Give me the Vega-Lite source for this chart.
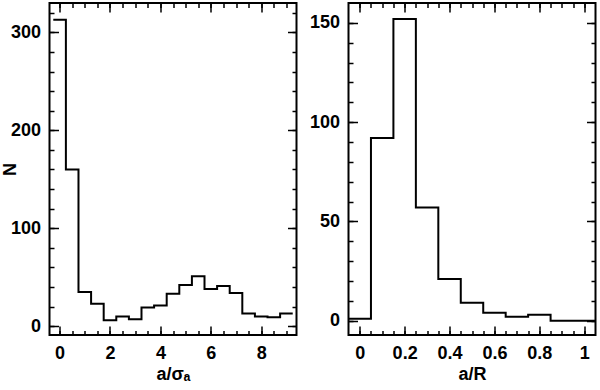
{
  "$schema": "https://vega.github.io/schema/vega-lite/v6.json",
  "padding": {"left": 0.5, "top": 1, "right": 0, "bottom": 0},
  "background": "white",
  "spacing": 9,
  "config": {
    "view": {"stroke": "black", "strokeWidth": 2},
    "axis": {
      "labelFont": "Liberation Sans", "labelFontSize": 18, "labelFontWeight": "bold", "labelColor": "black",
      "titleFont": "Liberation Sans", "titleFontSize": 18, "titleFontWeight": "bold", "titleColor": "black",
      "tickColor": "black", "tickWidth": 1.5, "domain": false, "grid": false, "labelFlush": false, "labelOverlap": false
    }
  },
  "hconcat": [
    {
      "width": 247, "height": 332,
      "data": {"values": [
        {"lo": -0.25, "hi": 0.25, "n": 313},
        {"lo": 0.25, "hi": 0.75, "n": 160},
        {"lo": 0.75, "hi": 1.25, "n": 35},
        {"lo": 1.25, "hi": 1.75, "n": 23},
        {"lo": 1.75, "hi": 2.25, "n": 6},
        {"lo": 2.25, "hi": 2.75, "n": 10},
        {"lo": 2.75, "hi": 3.25, "n": 7},
        {"lo": 3.25, "hi": 3.75, "n": 19},
        {"lo": 3.75, "hi": 4.25, "n": 21},
        {"lo": 4.25, "hi": 4.75, "n": 33},
        {"lo": 4.75, "hi": 5.25, "n": 42},
        {"lo": 5.25, "hi": 5.75, "n": 51},
        {"lo": 5.75, "hi": 6.25, "n": 38},
        {"lo": 6.25, "hi": 6.75, "n": 41},
        {"lo": 6.75, "hi": 7.25, "n": 34},
        {"lo": 7.25, "hi": 7.75, "n": 13},
        {"lo": 7.75, "hi": 8.25, "n": 10},
        {"lo": 8.25, "hi": 8.75, "n": 9},
        {"lo": 8.75, "hi": 9.25, "n": 13}
      ]},
      "transform": [{"fold": ["lo", "hi"], "as": ["edge", "x"]}],
      "layer": [
        {
          "mark": {"type": "line", "color": "black", "strokeWidth": 2},
          "encoding": {
            "x": {"field": "x", "type": "quantitative", "scale": {"domain": [-0.4, 9.4], "nice": false, "zero": false},
                  "axis": {"orient": "bottom", "values": [0, 2, 4, 6, 8], "ticks": false, "labelPadding": 9, "title": "a/σₐ", "titlePadding": 3}},
            "y": {"field": "n", "type": "quantitative", "scale": {"domain": [-9, 330], "nice": false, "zero": false},
                  "axis": {"orient": "left", "values": [0, 100, 200, 300], "ticks": false, "labelPadding": 9, "title": "N", "titlePadding": -9.5}},
            "order": [{"field": "x", "type": "quantitative"}, {"field": "edge", "type": "nominal"}]
          }
        },
        {
          "mark": {"type": "point", "opacity": 0, "size": 0},
          "encoding": {
            "x": {"field": "x", "type": "quantitative", "scale": {"domain": [-0.4, 9.4], "nice": false, "zero": false},
                  "axis": {"orient": "bottom", "values": [0, 2, 4, 6, 8], "labels": false, "tickSize": -9, "title": null}},
            "y": {"field": "n", "type": "quantitative", "scale": {"domain": [-9, 330], "nice": false, "zero": false},
                  "axis": {"orient": "left", "values": [0, 100, 200, 300], "labels": false, "tickSize": -9, "title": null}}
          }
        },
        {
          "mark": {"type": "point", "opacity": 0, "size": 0},
          "encoding": {
            "x": {"field": "x", "type": "quantitative", "scale": {"domain": [-0.4, 9.4], "nice": false, "zero": false},
                  "axis": {"orient": "bottom", "values": [0, 0.5, 1, 1.5, 2, 2.5, 3, 3.5, 4, 4.5, 5, 5.5, 6, 6.5, 7, 7.5, 8, 8.5, 9], "labels": false, "tickSize": -4.5, "title": null}},
            "y": {"field": "n", "type": "quantitative", "scale": {"domain": [-9, 330], "nice": false, "zero": false},
                  "axis": {"orient": "left", "values": [0, 20, 40, 60, 80, 100, 120, 140, 160, 180, 200, 220, 240, 260, 280, 300, 320], "labels": false, "tickSize": -4.5, "title": null}}
          }
        },
        {
          "mark": {"type": "point", "opacity": 0, "size": 0},
          "encoding": {
            "x": {"field": "x", "type": "quantitative", "scale": {"domain": [-0.4, 9.4], "nice": false, "zero": false},
                  "axis": {"orient": "top", "values": [0, 2, 4, 6, 8], "labels": false, "tickSize": -9, "title": null}},
            "y": {"field": "n", "type": "quantitative", "scale": {"domain": [-9, 330], "nice": false, "zero": false},
                  "axis": {"orient": "right", "values": [0, 100, 200, 300], "labels": false, "tickSize": -9, "title": null}}
          }
        },
        {
          "mark": {"type": "point", "opacity": 0, "size": 0},
          "encoding": {
            "x": {"field": "x", "type": "quantitative", "scale": {"domain": [-0.4, 9.4], "nice": false, "zero": false},
                  "axis": {"orient": "top", "values": [0, 0.5, 1, 1.5, 2, 2.5, 3, 3.5, 4, 4.5, 5, 5.5, 6, 6.5, 7, 7.5, 8, 8.5, 9], "labels": false, "tickSize": -4.5, "title": null}},
            "y": {"field": "n", "type": "quantitative", "scale": {"domain": [-9, 330], "nice": false, "zero": false},
                  "axis": {"orient": "right", "values": [0, 20, 40, 60, 80, 100, 120, 140, 160, 180, 200, 220, 240, 260, 280, 300, 320], "labels": false, "tickSize": -4.5, "title": null}}
          }
        }
      ],
      "resolve": {"axis": {"x": "independent", "y": "independent"}}
    },
    {
      "width": 247, "height": 332,
      "data": {"values": [
        {"lo": -0.05, "hi": 0.05, "n": 1},
        {"lo": 0.05, "hi": 0.15, "n": 92},
        {"lo": 0.15, "hi": 0.25, "n": 152},
        {"lo": 0.25, "hi": 0.35, "n": 57},
        {"lo": 0.35, "hi": 0.45, "n": 21},
        {"lo": 0.45, "hi": 0.55, "n": 9},
        {"lo": 0.55, "hi": 0.65, "n": 4},
        {"lo": 0.65, "hi": 0.75, "n": 2},
        {"lo": 0.75, "hi": 0.85, "n": 3},
        {"lo": 0.85, "hi": 0.95, "n": 0},
        {"lo": 0.95, "hi": 1.05, "n": 0}
      ]},
      "transform": [{"fold": ["lo", "hi"], "as": ["edge", "x"]}],
      "layer": [
        {
          "mark": {"type": "line", "color": "black", "strokeWidth": 2},
          "encoding": {
            "x": {"field": "x", "type": "quantitative", "scale": {"domain": [-0.05, 1.05], "nice": false, "zero": false},
                  "axis": {"orient": "bottom", "values": [0, 0.2, 0.4, 0.6, 0.8, 1], "format": "~g", "ticks": false, "labelPadding": 9, "title": "a/R", "titlePadding": 3}},
            "y": {"field": "n", "type": "quantitative", "scale": {"domain": [-7.2, 160], "nice": false, "zero": false},
                  "axis": {"orient": "left", "values": [0, 50, 100, 150], "ticks": false, "labelPadding": 9, "title": null}},
            "order": [{"field": "x", "type": "quantitative"}, {"field": "edge", "type": "nominal"}]
          }
        },
        {
          "mark": {"type": "point", "opacity": 0, "size": 0},
          "encoding": {
            "x": {"field": "x", "type": "quantitative", "scale": {"domain": [-0.05, 1.05], "nice": false, "zero": false},
                  "axis": {"orient": "bottom", "values": [0, 0.2, 0.4, 0.6, 0.8, 1], "labels": false, "tickSize": -9, "title": null}},
            "y": {"field": "n", "type": "quantitative", "scale": {"domain": [-7.2, 160], "nice": false, "zero": false},
                  "axis": {"orient": "left", "values": [0, 50, 100, 150], "labels": false, "tickSize": -9, "title": null}}
          }
        },
        {
          "mark": {"type": "point", "opacity": 0, "size": 0},
          "encoding": {
            "x": {"field": "x", "type": "quantitative", "scale": {"domain": [-0.05, 1.05], "nice": false, "zero": false},
                  "axis": {"orient": "bottom", "values": [0, 0.05, 0.1, 0.15, 0.2, 0.25, 0.3, 0.35, 0.4, 0.45, 0.5, 0.55, 0.6, 0.65, 0.7, 0.75, 0.8, 0.85, 0.9, 0.95, 1], "labels": false, "tickSize": -4.5, "title": null}},
            "y": {"field": "n", "type": "quantitative", "scale": {"domain": [-7.2, 160], "nice": false, "zero": false},
                  "axis": {"orient": "left", "values": [0, 10, 20, 30, 40, 50, 60, 70, 80, 90, 100, 110, 120, 130, 140, 150], "labels": false, "tickSize": -4.5, "title": null}}
          }
        },
        {
          "mark": {"type": "point", "opacity": 0, "size": 0},
          "encoding": {
            "x": {"field": "x", "type": "quantitative", "scale": {"domain": [-0.05, 1.05], "nice": false, "zero": false},
                  "axis": {"orient": "top", "values": [0, 0.2, 0.4, 0.6, 0.8, 1], "labels": false, "tickSize": -9, "title": null}},
            "y": {"field": "n", "type": "quantitative", "scale": {"domain": [-7.2, 160], "nice": false, "zero": false},
                  "axis": {"orient": "right", "values": [0, 50, 100, 150], "labels": false, "tickSize": -9, "title": null}}
          }
        },
        {
          "mark": {"type": "point", "opacity": 0, "size": 0},
          "encoding": {
            "x": {"field": "x", "type": "quantitative", "scale": {"domain": [-0.05, 1.05], "nice": false, "zero": false},
                  "axis": {"orient": "top", "values": [0, 0.05, 0.1, 0.15, 0.2, 0.25, 0.3, 0.35, 0.4, 0.45, 0.5, 0.55, 0.6, 0.65, 0.7, 0.75, 0.8, 0.85, 0.9, 0.95, 1], "labels": false, "tickSize": -4.5, "title": null}},
            "y": {"field": "n", "type": "quantitative", "scale": {"domain": [-7.2, 160], "nice": false, "zero": false},
                  "axis": {"orient": "right", "values": [0, 10, 20, 30, 40, 50, 60, 70, 80, 90, 100, 110, 120, 130, 140, 150], "labels": false, "tickSize": -4.5, "title": null}}
          }
        }
      ],
      "resolve": {"axis": {"x": "independent", "y": "independent"}}
    }
  ]
}
